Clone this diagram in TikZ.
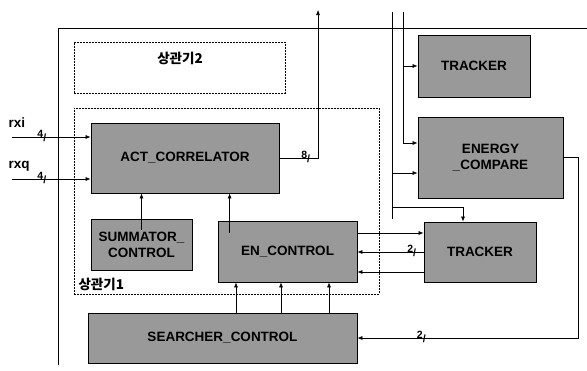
\documentclass[tikz,border=0pt]{standalone}
\usepackage{fontspec}
\setmainfont{Liberation Sans}
\newfontfamily\kr{Noto Sans CJK KR}
\usetikzlibrary{positioning, arrows.meta, calc}

\begin{document}
\begin{tikzpicture}[x=1pt, y=-1pt,
    every node/.style={font=\fontsize{13.5}{16}\selectfont\bfseries},
    blk/.style={rectangle, draw, thick, fill=black!40, align=center, inner sep=1pt},
    grp/.style={rectangle, draw, thin, dash pattern=on 2pt off 1pt},
    sig/.style={draw, semithick, -{Latex[length=5pt, width=4pt]}},
    wire/.style={draw, semithick},
    busw/.style={font=\fontsize{10.5}{10}\selectfont\bfseries, inner sep=0pt, anchor=base, yshift=-4pt},
    kor/.style={font=\kr\bfseries\fontsize{13.5}{15}\selectfont}]

  \useasboundingbox (0,0) rectangle (587,370);

  % outer frame
  \draw[wire] (58,365) -- (58,28) -- (587,28);

  % correlator groups
  \node[grp, minimum width=211pt, minimum height=51pt] (corr2) at (179.5,67.5) {};
  \node[kor] (corr2lbl) at (180,58) {상관기2};
  \node[grp, minimum width=305pt, minimum height=186pt] (corr1) at (226.5,201) {};
  \node[kor, anchor=west] (corr1lbl) at (75,284) {상관기1};

  % blocks
  \node[blk, minimum width=188pt, minimum height=70pt] (act)  at (185,158)   {ACT\_CORRELATOR};
  \node[blk, minimum width=101pt, minimum height=51pt] (summ) at (141.5,244.5) {SUMMATOR\_\\CONTROL};
  \node[blk, minimum width=139pt, minimum height=61pt] (enc)  at (287.5,251.5) {EN\_CONTROL};
  \node[blk, minimum width=269pt, minimum height=50pt] (srch) at (222.5,338)   {SEARCHER\_CONTROL};
  \node[blk, minimum width=112pt, minimum height=62pt] (trk1) at (474,66)      {TRACKER};
  \node[blk, minimum width=145pt, minimum height=81pt] (nrg)  at (490.5,157.5) {ENERGY\\\_COMPARE};
  \node[blk, minimum width=112pt, minimum height=60pt] (trk2) at (480,252)     {TRACKER};

  % inputs
  \node[anchor=west] (rxi) at (5,123) {rxi};
  \node[anchor=west] (rxq) at (5,166) {rxq};
  \coordinate (rxiin) at (12,137);
  \coordinate (rxqin) at (12,179);
  \draw[sig] (rxiin) -- node[busw, pos=0.38]{\raisebox{4pt}{4}/} (rxiin -| act.west);
  \draw[sig] (rxqin) -- node[busw, pos=0.38]{\raisebox{4pt}{4}/} (rxqin -| act.west);

  % correlator output
  \coordinate (corrout) at (318,10);
  \draw[sig] (act.east) -- node[busw, pos=0.68]{\raisebox{4pt}{8}/} (act.east -| corrout) -- (corrout);

  % into ACT_CORRELATOR
  \draw[sig] ([yshift=-11pt]summ.north) -- (summ.north |- act.south);
  \draw[sig] ([xshift=12pt, yshift=-12pt]enc.north west) -- ([xshift=12pt]enc.north west |- act.south);

  % searcher to enable control
  \foreach \x in {236,281,329}
    \draw[sig] (srch.north -| \x,0) -- (enc.south -| \x,0);

  % enable control <-> tracker
  \draw[sig] (enc.east |- 0,233) -- (trk2.west |- 0,233);
  \draw[sig] (trk2.west |- 0,252) -- node[busw, pos=0.18]{\raisebox{4pt}{2}/} (enc.east |- 0,252);
  \draw[sig] (trk2.west |- 0,272) -- (enc.east |- 0,272);

  % energy compare back to searcher
  \draw[sig] (nrg.east) -| (srch.east -| 578,0) -- node[busw, pos=0.71]{\raisebox{4pt}{2}/} (srch.east);

  % top buses
  \coordinate (busa) at (392,12);
  \coordinate (busb) at (403,12);
  \draw[wire] (busa) -- (392,219);
  \draw[sig] (busb) |- (nrg.west |- 0,143);
  \draw[sig] (busb |- trk1.west) -- (trk1.west);
  \draw[sig] (busa |- 0,173) -- (nrg.west |- 0,173);
  \draw[sig] (busa |- 0,207) -| (trk2.north -| 463,0);
\end{tikzpicture}
\end{document}
